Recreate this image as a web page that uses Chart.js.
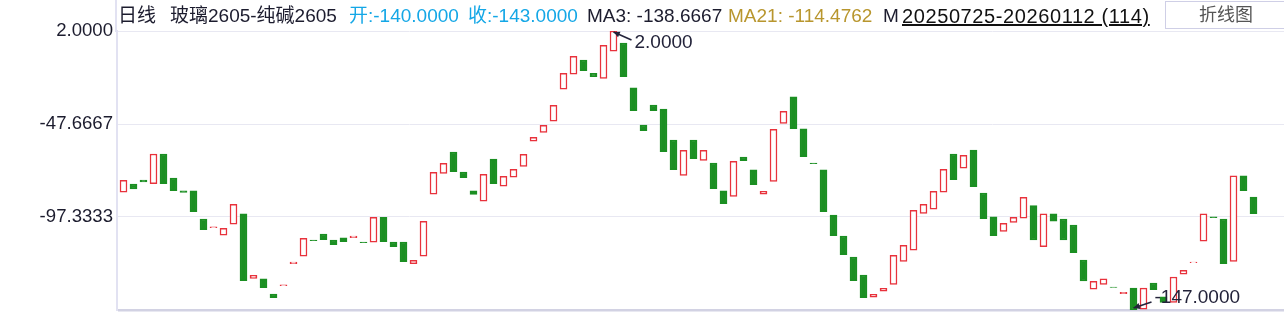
<!DOCTYPE html>
<html>
<head>
<meta charset="utf-8">
<script src="https://cdn.jsdelivr.net/npm/chart.js@4.4.0/dist/chart.umd.min.js"></script>
<style>
  html, body { margin: 0; padding: 0; background: #fff; }
  #wrap { position: relative; width: 1284px; height: 313px; overflow: hidden;
    font-family: "Liberation Sans", Arial, "Noto Sans CJK SC", sans-serif; }
  #kline { position: absolute; left: 0; top: 0; }
  .hd { position: absolute; top: 4px; font-size: 19px; line-height: 24px; white-space: nowrap; color: #1c1c2e; }
  .blue { color: #14a7e6; }
  .gold { color: #b8962e; }
  .date { font-size: 20px; text-decoration: underline; color: #111; letter-spacing: 0.6px; }
  #vline { position: absolute; left: 115px; top: 0; width: 2px; height: 32px; background: #e2e2f2; }
  #btn { position: absolute; left: 1165px; top: 1px; width: 122px; height: 28px; border: 1px solid #cfcfe6;
    box-sizing: border-box; text-align: center; font-size: 18px; line-height: 27px; color: #555; }
</style>
</head>
<body>
<div id="wrap">
  <canvas id="kline" width="1284" height="313"></canvas>
  <div id="vline"></div>
  <span class="hd" style="left:118px">日线</span>
  <span class="hd" style="left:170px">玻璃2605-纯碱2605</span>
  <span class="hd blue" style="left:349px">开:-140.0000</span>
  <span class="hd blue" style="left:468px">收:-143.0000</span>
  <span class="hd" style="left:587px">MA3: -138.6667</span>
  <span class="hd gold" style="left:728px">MA21: -114.4762</span>
  <span class="hd" style="left:883px">M</span>
  <span class="hd date" style="left:902px">20250725-20260112 (114)</span>
  <div id="btn">折线图</div>
</div>
<script>
'use strict';

// candle bodies (open / close), 114 trading days
var opens = [
  -84.1, -79.7, -77.6, -79.5, -63.7, -76.5, -83.3, -83.3, -98.4, -103.0,
  -107.1, -101.2, -95.7, -130.1, -130.4, -138.5, -134.0, -122.3, -118.3, -109.6,
  -106.4, -109.6, -108.5, -108.4, -110.7, -110.8, -97.5, -110.7, -110.7, -122.3,
  -118.3, -85.2, -74.0, -62.6, -73.3, -83.3, -88.9, -66.4, -80.9, -76.1,
  -70.3, -56.9, -52.1, -46.2, -29.1, -21.1, -13.5, -20.6, -23.3, -8.8,
  -4.4, -28.4, -48.2, -37.5, -39.7, -56.2, -75.1, -56.2, -67.1, -68.5,
  -83.4, -86.3, -65.3, -72.2, -85.2, -78.3, -47.3, -33.2, -50.3, -68.5,
  -72.2, -96.3, -107.5, -118.7, -128.3, -140.2, -137.0, -133.3, -121.0, -115.1,
  -95.4, -93.2, -84.1, -63.7, -71.3, -61.6, -84.5, -97.3, -105.0, -100.2,
  -98.0, -91.3, -113.2, -95.7, -98.4, -101.6, -120.3, -135.9, -133.3, -134.7,
  -138.3, -135.3, -146.5, -132.6, -140.0, -142.9, -127.9, -121.7, -110.3, -97.3,
  -98.4, -121.0, -75.4, -86.7
];
var closes = [
  -77.7, -82.4, -78.6, -63.7, -79.5, -83.3, -84.2, -94.5, -104.1, -102.6,
  -103.4, -90.6, -131.3, -128.5, -135.1, -140.4, -133.6, -121.4, -108.7, -110.0,
  -109.5, -112.1, -110.5, -107.5, -111.0, -97.5, -110.5, -113.2, -121.2, -120.5,
  -99.6, -73.5, -68.7, -73.1, -76.3, -85.3, -74.5, -79.5, -75.6, -71.9,
  -63.8, -54.8, -48.4, -37.7, -20.6, -11.5, -19.2, -22.4, -5.6, 2.0,
  -22.4, -40.6, -51.2, -40.6, -62.5, -72.1, -61.7, -66.2, -61.7, -82.2,
  -90.2, -67.6, -67.3, -80.1, -83.6, -50.5, -40.9, -50.2, -65.1, -68.9,
  -94.5, -107.3, -117.5, -131.3, -140.4, -138.6, -135.4, -117.8, -112.4, -93.8,
  -90.6, -83.6, -71.9, -77.4, -64.4, -81.2, -98.2, -107.3, -100.7, -97.5,
  -86.8, -109.6, -95.7, -99.5, -109.6, -116.4, -131.5, -131.7, -130.4, -135.0,
  -137.5, -147.0, -135.3, -136.2, -143.0, -129.4, -125.8, -121.4, -95.7, -97.7,
  -122.3, -75.4, -83.3, -95.6
];
var yTicks = [2, -47.6667, -97.3333, -147];
var upColor = '#e8323c';
var downColor = '#1b8f22';

var candles = opens.map(function(o, i) {
  return { x: i, y: [o, closes[i]] };
});

// max / min markers with a small arrow
var extremes = {
  id: 'extremes',
  afterDatasetsDraw: function(chart) {
    var ctx = chart.ctx;
    var xs = chart.scales.x, ys = chart.scales.y;
    var hi = 0, lo = 0;
    closes.forEach(function(c, i) {
      if (Math.max(c, opens[i]) > Math.max(closes[hi], opens[hi])) hi = i;
      if (Math.min(c, opens[i]) < Math.min(closes[lo], opens[lo])) lo = i;
    });
    var hiVal = Math.max(closes[hi], opens[hi]);
    var loVal = Math.min(closes[lo], opens[lo]);
    ctx.save();
    ctx.strokeStyle = '#23233a';
    ctx.fillStyle = '#23233a';
    ctx.lineWidth = 1.5;
    ctx.font = '19px "Liberation Sans", Arial, sans-serif';
    ctx.textBaseline = 'middle';

    function mark(x, y, dx, dy, text) {
      ctx.beginPath();
      ctx.moveTo(x, y);
      ctx.lineTo(x + dx, y + dy);
      ctx.stroke();
      var a = Math.atan2(dy, dx);
      ctx.beginPath();
      ctx.moveTo(x, y);
      ctx.lineTo(x + 7 * Math.cos(a - 0.45), y + 7 * Math.sin(a - 0.45));
      ctx.lineTo(x + 7 * Math.cos(a + 0.45), y + 7 * Math.sin(a + 0.45));
      ctx.closePath();
      ctx.fill();
      ctx.fillText(text, x + dx + 3, y + dy + (dy > 0 ? 3 : -4));
    }
    mark(xs.getPixelForValue(hi), ys.getPixelForValue(hiVal) + 1, 18, 8, hiVal.toFixed(4));
    mark(xs.getPixelForValue(lo), ys.getPixelForValue(loVal) - 2, 18, -6, loVal.toFixed(4));
    ctx.restore();
  }
};

var ctx = document.getElementById('kline');
var klineChart = new Chart(ctx, {
  type: 'bar',
  data: {
    datasets: [{
      data: candles,
      barThickness: 7,
      borderWidth: 1.5,
      borderSkipped: false,
      backgroundColor: candles.map(function(d) { return d.y[1] >= d.y[0] ? '#ffffff' : downColor; }),
      borderColor: candles.map(function(d) { return d.y[1] >= d.y[0] ? upColor : downColor; })
    }]
  },
  options: {
    responsive: false,
    animation: false,
    devicePixelRatio: 1,
    layout: { padding: { top: 31, right: 0, bottom: 3, left: 0 } },
    plugins: { legend: { display: false }, tooltip: { enabled: false } },
    scales: {
      x: {
        type: 'linear',
        display: false,
        min: -0.65,
        max: 116.05,
        offset: false
      },
      y: {
        min: -147,
        max: 2,
        afterBuildTicks: function(scale) {
          scale.ticks = yTicks.map(function(v) { return { value: v }; });
        },
        afterFit: function(scale) {
          scale.width = 117;
          scale.paddingTop = 0;
          scale.paddingBottom = 0;
        },
        ticks: {
          padding: 4,
          color: '#1c1c2e',
          font: { family: '"Liberation Sans", Arial, sans-serif', size: 18.6 },
          callback: function(v) { return v === -147 ? '' : v.toFixed(4); }
        },
        grid: {
          drawTicks: false,
          color: function(c) { return c.tick && c.tick.value === -147 ? '#d2d2e3' : '#e8e8f2'; },
          lineWidth: function(c) { return c.tick && c.tick.value === -147 ? 2.5 : 1; }
        },
        border: { display: true, color: '#e2e2f2', width: 2 }
      }
    }
  },
  plugins: [extremes]
});
</script>
</body>
</html>
